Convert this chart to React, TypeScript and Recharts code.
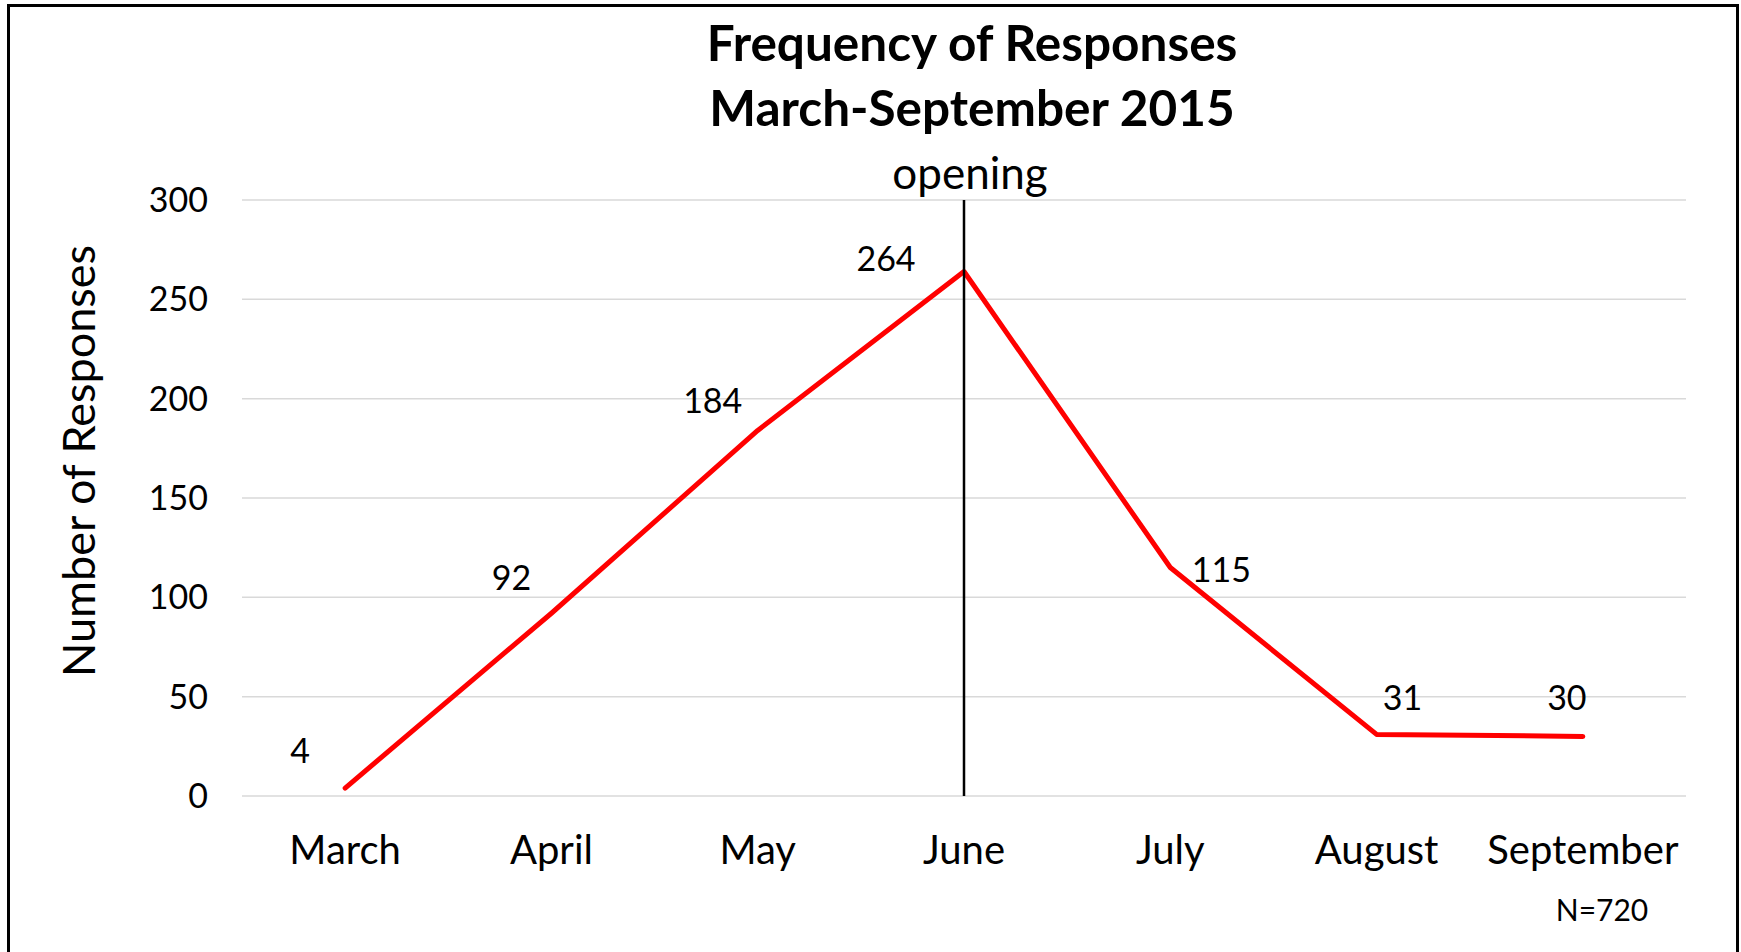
import React from "react";
import { LineChart, Line, XAxis, YAxis, CartesianGrid, ReferenceLine, LabelList } from "recharts";

const months = ["March", "April", "May", "June", "July", "August", "September"];
const responses = [4, 92, 184, 264, 115, 31, 30];
const yTicks = [0, 50, 100, 150, 200, 250, 300];
const openingMonth = "June";
const totalN = 720;

// where each value label sits relative to its point (dx, dy)
const labelShift: [number, number][] = [
  [-45, -37],
  [-40, -35],
  [-45, -30],
  [-78, -13],
  [51, 2],
  [26, -37],
  [-16, -39],
];

const data = months.map((m, i) => ({ month: m, responses: responses[i] }));

const FONT = "Lato, 'Noto Sans', sans-serif";

function PointLabel(props: any) {
  const { x, y, value, index } = props;
  const [dx, dy] = labelShift[index] ?? [0, -30];
  return (
    <text x={x + dx} y={y + dy} dy="0.36em" textAnchor="middle" fontSize={34} fill="#000" fontFamily={FONT}>
      {value}
    </text>
  );
}

export default function App() {
  return (
    <div style={{ position: "absolute", left: 0, top: 0, width: 1741, height: 952, overflow: "hidden", background: "#fff", fontFamily: FONT }}>
      <div style={{ position: "absolute", left: 7, top: 4, width: 1732, height: 1000, border: "3px solid #000", boxSizing: "border-box" }} />
      <div style={{ position: "absolute", left: 572, top: 10, width: 800, textAlign: "center", fontSize: 49.5, fontWeight: 700, lineHeight: "65px", color: "#000" }}>
        Frequency of Responses
        <br />
        March-September 2015
      </div>
      <div
        style={{
          position: "absolute",
          left: -172,
          top: 436,
          width: 500,
          height: 50,
          lineHeight: "50px",
          textAlign: "center",
          fontSize: 45,
          color: "#000",
          transform: "rotate(-90deg)",
        }}
      >
        Number of Responses
      </div>
      <div style={{ position: "absolute", left: 1502, top: 894, width: 200, textAlign: "center", fontSize: 30, lineHeight: "30px", color: "#000" }}>
        N={totalN}
      </div>
      <div style={{ position: "absolute", left: 0, top: 0 }}>
        <LineChart width={1741} height={952} data={data} margin={{ top: 200, right: 55, bottom: 96, left: 162 }}>
          <CartesianGrid vertical={false} stroke="#d9d9d9" strokeWidth={1.5} />
          <XAxis
            dataKey="month"
            scale="band"
            height={60}
            axisLine={false}
            tickLine={false}
            tickSize={0}
            tickMargin={40}
            interval={0}
            tick={{ fontSize: 40, fill: "#000", fontFamily: FONT }}
          />
          <YAxis
            width={80}
            domain={[0, 300]}
            ticks={yTicks}
            axisLine={false}
            tickLine={false}
            tickSize={0}
            tickMargin={34}
            tick={{ fontSize: 34, fill: "#000", fontFamily: FONT }}
          />
          <Line
            type="linear"
            dataKey="responses"
            stroke="#ff0000"
            strokeWidth={5}
            strokeLinecap="round"
            strokeLinejoin="round"
            dot={false}
            activeDot={false}
            isAnimationActive={false}
          >
            <LabelList dataKey="responses" content={PointLabel} />
          </Line>
          <ReferenceLine
            x={openingMonth}
            stroke="#000"
            strokeWidth={2.5}
            label={{ value: "opening", position: "top", offset: 11, fontSize: 44, fill: "#000", fontFamily: FONT, dx: 6 }}
          />
        </LineChart>
      </div>
    </div>
  );
}
